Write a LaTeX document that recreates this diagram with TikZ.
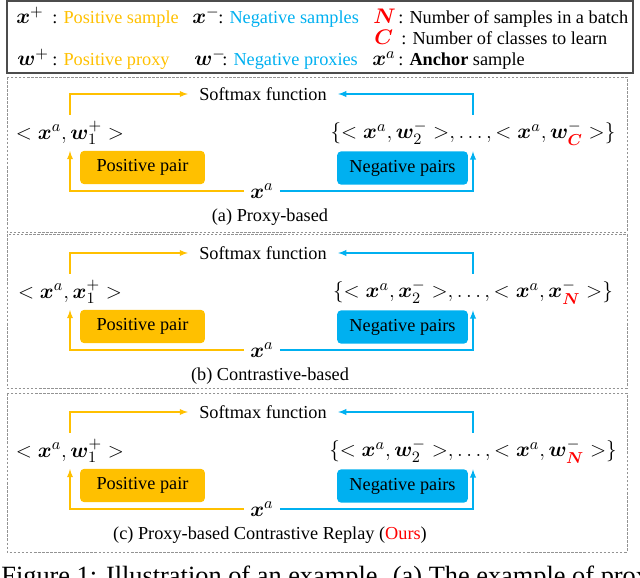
\documentclass[tikz,border=0pt]{standalone}
\usepackage{fontspec}
\setmainfont{Liberation Serif}
\usepackage{bm}

\definecolor{posc}{HTML}{FFC000}
\definecolor{negc}{HTML}{00B0F0}
\definecolor{oursc}{HTML}{FF0000}

\begin{document}
\begin{tikzpicture}[x=0.02cm, y=-0.02cm,
    txt/.style={font=\fontsize{10.4}{12}\selectfont},
    sym/.style={font=\fontsize{13}{15}\selectfont, inner sep=0pt, anchor=base west},
    redsym/.style={font=\fontsize{11.5}{13}\selectfont, inner sep=0pt, anchor=base west},
    lbl/.style={font=\fontsize{10.4}{12}\selectfont, inner sep=0pt, anchor=base west},
    pairtxt/.style={font=\fontsize{13}{15}\selectfont},
    pairbox/.style={font=\fontsize{10.4}{12}\selectfont, rounded corners=2.5pt, minimum height=0.67cm},
    posline/.style={draw=posc, line width=0.6pt},
    negline/.style={draw=negc, line width=0.6pt},
    frame/.style={draw=gray!85, line width=0.5pt, dash pattern=on 1.5pt off 0.8pt}]

    % 1. Fix the canvas (pixel grid of the reference)
    \useasboundingbox (0,0) rectangle (640,578);

    % 2. Legend box
    \draw[black!70, line width=0.6pt] (7,1) rectangle (633,73);
    \node[sym] (xpos) at (16,24) {$\bm{x}^{+}$};
    \node[lbl] (xposl) at (52,24) {: \textcolor{posc}{Positive sample}};
    \node[sym] (xneg) at (192,24) {$\bm{x}^{-}$};
    \node[lbl] (xnegl) at (218,24) {: \textcolor{negc}{Negative samples}};
    \node[redsym] (nsym) at (373,24) {$\textcolor{oursc}{\bm{N}}$};
    \node[lbl] (nsyml) at (398,24) {: Number of samples in a batch};
    \node[redsym] (csym) at (374,45) {$\textcolor{oursc}{\bm{C}}$};
    \node[lbl] (csyml) at (401,45) {: Number of classes to learn};
    \node[sym] (wpos) at (17,66) {$\bm{w}^{+}$};
    \node[lbl] (wposl) at (52,66) {: \textcolor{posc}{Positive proxy}};
    \node[sym] (wneg) at (194,66) {$\bm{w}^{-}$};
    \node[lbl] (wnegl) at (222,66) {: \textcolor{negc}{Negative proxies}};
    \node[sym] (xanc) at (372,66) {$\bm{x}^{a}$};
    \node[lbl] (xancl) at (398,66) {: \textbf{Anchor} sample};

    % 3. Dashed frames of the three panels
    \draw[frame] (7,77) rectangle (627,232);
    \draw[frame] (7,234) rectangle (627,388);
    \draw[frame] (7,393) rectangle (627,552);

    % 4. One panel: shift, id, left pair, right pairs, caption
    \def\panel#1#2#3#4#5{
      \begin{scope}[shift={(0,#1)}]
        \node[txt] (soft#2) at (263,94) {Softmax function};
        \node[pairtxt] (lp#2) at (70,133) {#3};
        \node[pairtxt] (rp#2) at (473,133) {#4};
        \node[pairbox, fill=posc, minimum width=2.5cm] (pb#2) at (142.5,167.5) {Positive pair};
        \node[pairbox, fill=negc, minimum width=2.62cm] (nb#2) at (402.5,168) {Negative pairs};
        \node[pairtxt] (xa#2) at (262,191) {$\bm{x}^{a}$};
        \node[txt] (cap#2) at (270,217) {#5};
        \draw[posline, -latex, shorten >=3pt] (lp#2.north) |- (soft#2.west);
        \draw[negline, -latex, shorten >=3pt] (rp#2.north) |- (soft#2.east);
        \draw[posline, -latex] (xa#2.west) -| (lp#2.south);
        \draw[negline, -latex] (xa#2.east) -| (rp#2.south);
      \end{scope}
    }

    % 5. The three panels
    \panel{0}{a}{$<\bm{x}^{a},\bm{w}^{+}_{1}>$}
      {$\{<\bm{x}^{a},\bm{w}^{-}_{2}>,\ldots,<\bm{x}^{a},\bm{w}^{-}_{\textcolor{oursc}{\bm{C}}}>\}$}
      {(a) Proxy-based}
    \panel{159}{b}{$<\bm{x}^{a},\bm{x}^{+}_{1}>$}
      {$\{<\bm{x}^{a},\bm{x}^{-}_{2}>,\ldots,<\bm{x}^{a},\bm{x}^{-}_{\textcolor{oursc}{\bm{N}}}>\}$}
      {(b) Contrastive-based}
    \panel{318}{c}{$<\bm{x}^{a},\bm{w}^{+}_{1}>$}
      {$\{<\bm{x}^{a},\bm{w}^{-}_{2}>,\ldots,<\bm{x}^{a},\bm{w}^{-}_{\textcolor{oursc}{\bm{N}}}>\}$}
      {(c) Proxy-based Contrastive Replay (\textcolor{oursc}{Ours})}

    % 6. Figure caption, cut by the page edge
    \node[font=\fontsize{15}{17}\selectfont, anchor=base west, inner sep=0pt] (figcap) at (1,584)
      {Figure 1: Illustration of an example. (a) The example of proxy-based};

\end{tikzpicture}
\end{document}
